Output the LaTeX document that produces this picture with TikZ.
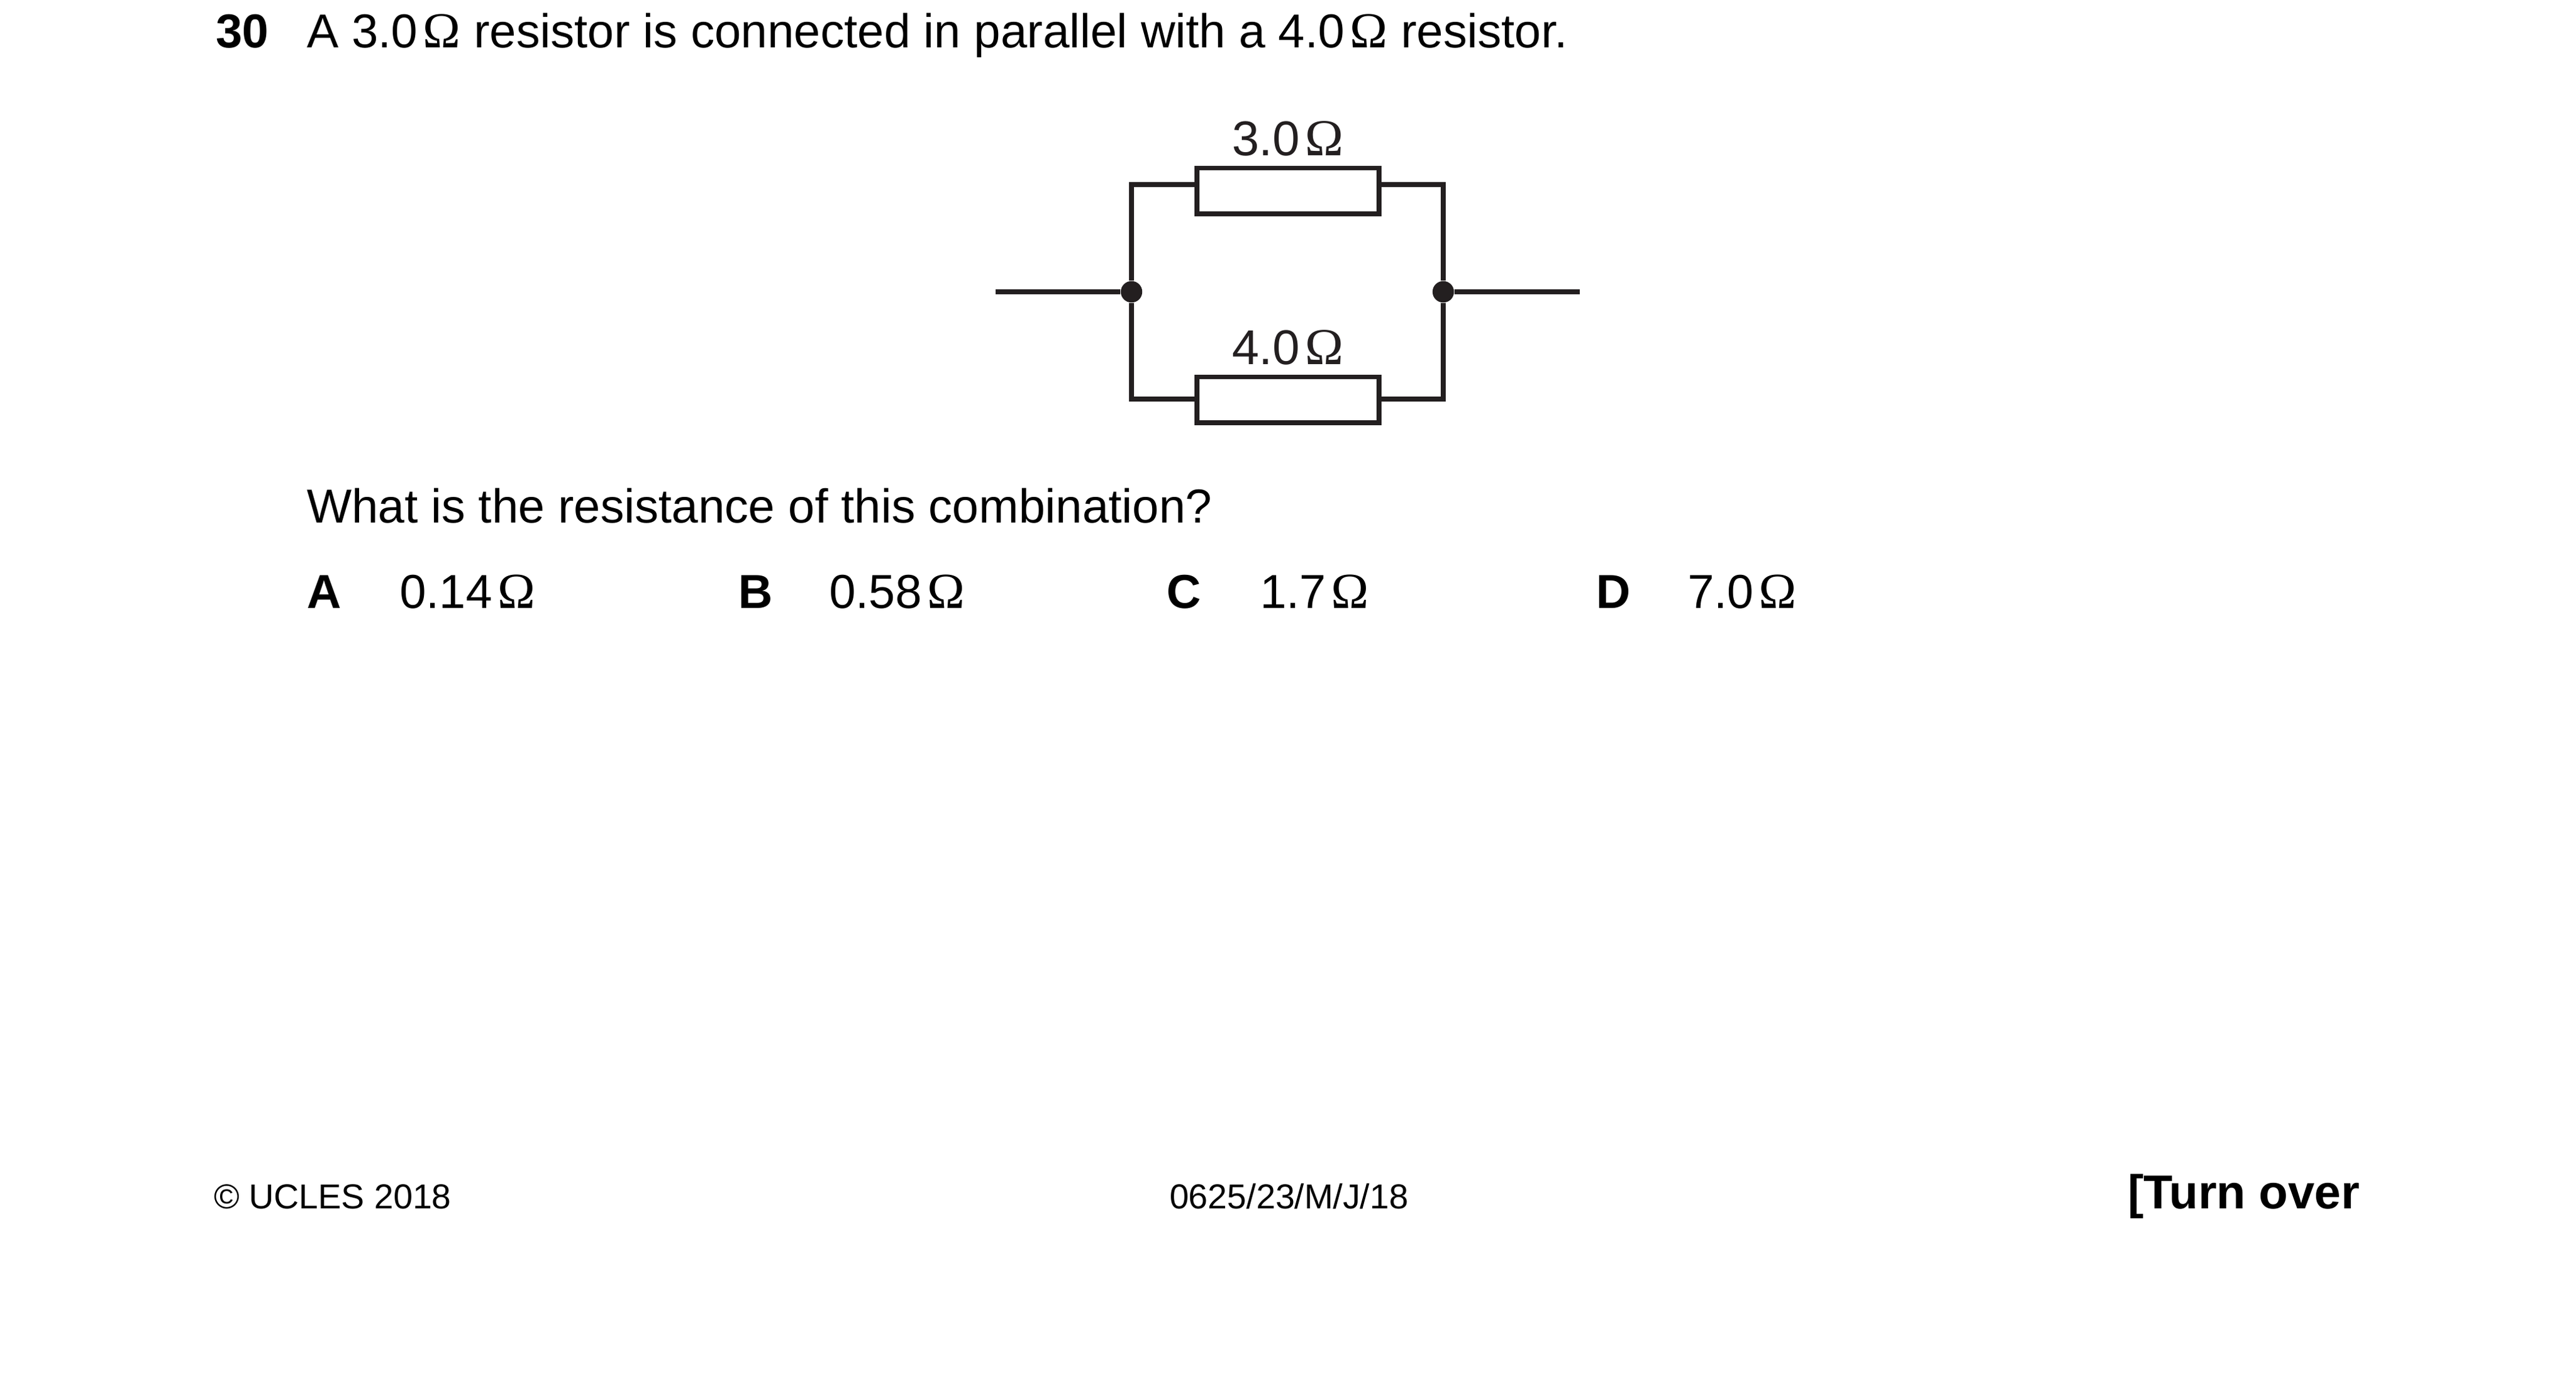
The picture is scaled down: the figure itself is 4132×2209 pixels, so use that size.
\documentclass[tikz,border=0pt]{standalone}
\usepackage{fontspec}
\setmainfont{Liberation Sans}
\newfontfamily\omegafont[Scale=1.06]{Liberation Serif}
\newcommand{\ohmsym}{\hspace{0.11em}{\omegafont\char"03A9}}
\definecolor{inkc}{HTML}{231F20}
\tikzset{
  txt/.style={anchor=base west,inner sep=0pt,outer sep=0pt,font=\fontsize{19.1pt}{24pt}\selectfont,text=black},
  bold/.style={txt,font=\fontsize{19.1pt}{24pt}\selectfont\bfseries},
  foot/.style={txt,font=\fontsize{13.9pt}{18pt}\selectfont},
  lab/.style={anchor=base,inner sep=0pt,outer sep=0pt,font=\fontsize{19.6pt}{24pt}\selectfont,text=inkc},
  wire/.style={draw=inkc,line width=1.85pt,line join=miter},
  resbox/.style={draw=inkc,line width=1.85pt,fill=white,inner sep=0pt,minimum width=73pt,minimum height=18.4pt},
  junc/.style={circle,fill=inkc,inner sep=0pt,minimum size=8.6pt},
}
\begin{document}
\begin{tikzpicture}[x=0.25pt,y=-0.25pt]
\useasboundingbox (0,0) rectangle (4132,2209);
\fill[white] (0,0) rectangle (4132,2209);
% question text
\node[bold] (qn) at (346,76) {30};
\node[txt] (q) at (492,76) {A 3.0\ohmsym{} resistor is connected in parallel with a 4.0\ohmsym{} resistor.};
\node[txt] (ask) at (492,838) {What is the resistance of this combination?};
% options
\node[bold] (oa) at (492,975) {A};
\node[txt] (va) at (641,975) {0.14\ohmsym};
\node[bold] (ob) at (1184,975) {B};
\node[txt] (vb) at (1330,975) {0.58\ohmsym};
\node[bold] (oc) at (1871,975) {C};
\node[txt] (vc) at (2021,975) {1.7\ohmsym};
\node[bold] (od) at (2560,975) {D};
\node[txt] (vd) at (2707,975) {7.0\ohmsym};
% footer
\node[foot] (f1) at (343,1938) {\textcopyright{} UCLES 2018};
\node[foot] (f2) at (1876,1938) {0625/23/M/J/18};
\node[bold] (f3) at (3413,1938) {[Turn over};
% circuit
\coordinate (inL) at (1597,468);
\coordinate (inR) at (2534,468);
\coordinate (tl) at (1815,296);
\coordinate (tr) at (2315,296);
\coordinate (bl) at (1815,640);
\coordinate (br) at (2315,640);
\node[junc] (jl) at (1815,468) {};
\node[junc] (jr) at (2315,468) {};
\node[resbox] (r1) at (2066,306) {};
\node[resbox] (r2) at (2066,641) {};
\draw[wire] (inL) -- (jl);
\draw[wire] (jr) -- (inR);
\draw[wire] (r1.west |- tl) -- (tl) -- (jl) -- (bl) -- (r2.west |- bl);
\draw[wire] (r1.east |- tr) -- (tr) -- (jr) -- (br) -- (r2.east |- br);
\node[lab] (l1) at (2066,249) {3.0\ohmsym};
\node[lab] (l2) at (2066,584) {4.0\ohmsym};
\end{tikzpicture}
\end{document}
